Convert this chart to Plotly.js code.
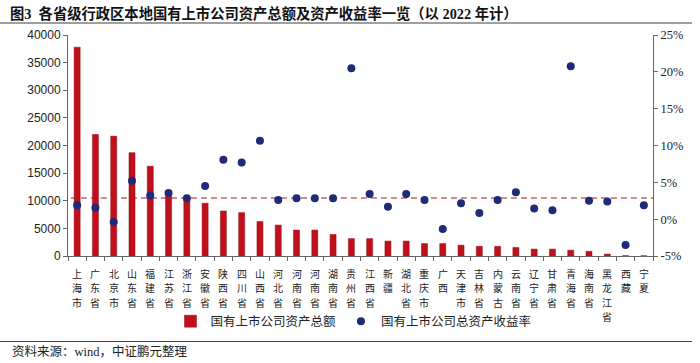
<!DOCTYPE html>
<html>
<head>
<meta charset="utf-8">
<script src="https://cdn.plot.ly/plotly-3.0.1.min.js"></script>
<style>html,body{margin:0;padding:0;background:#fff;}#chart{width:700px;height:363px;}</style>
</head>
<body>
<div id="chart"></div>
<script>
const categories = ['上海市','广东省','北京市','山东省','福建省','江苏省','浙江省','安徽省','陕西省','四川省','山西省','河北省','河南省','河南省','湖南省','贵州省','江西省','新疆','湖北省','重庆市','广西','天津市','吉林省','内蒙古','云南省','辽宁省','甘肃省','青海省','海南省','黑龙江省','西藏','宁夏'];
const totalAssets = [37800, 22000, 21700, 18700, 16250, 11200, 10400, 9550, 8150, 7850, 6250, 5600, 4700, 4700, 3900, 3150, 3150, 2700, 2700, 2250, 2250, 1950, 1750, 1750, 1550, 1250, 1250, 1050, 850, 350, 60, 40];
const roa = [1.9, 1.55, -0.4, 5.2, 3.2, 3.55, 2.85, 4.5, 8.05, 7.7, 10.65, 2.6, 2.85, 2.85, 2.85, 20.5, 3.4, 1.7, 3.4, 2.6, -1.35, 2.15, 0.85, 2.6, 3.65, 1.45, 1.2, 20.75, 2.5, 2.4, -3.5, 1.9];
const avgRoa = 2.88;
const leftTicks = [0, 5000, 10000, 15000, 20000, 25000, 30000, 35000, 40000];
const rightTicks = [-5, 0, 5, 10, 15, 20, 25];
const seriesNames = ['国有上市公司资产总额', '国有上市公司总资产收益率'];
const titleText = '图3  各省级行政区本地国有上市公司资产总额及资产收益率一览（以 2022 年计）';
const sourceText = '资料来源：wind，中证鹏元整理';

const idx = categories.map((_, i) => i);

const traces = [
  {
    type: 'bar', name: seriesNames[0], x: idx, y: totalAssets, yaxis: 'y',
    marker: {color: '#C0101C', line: {color: '#9a0c16', width: 0.5}},
    width: 0.33
  },
  {
    type: 'scatter', mode: 'markers', name: seriesNames[1], x: idx, y: roa, yaxis: 'y2',
    marker: {color: '#1F2A78', size: 8}
  }
];

// vertical (stacked-character) category labels, one text per character
const labelFont = {family: 'Noto Sans CJK SC', size: 10, color: '#222'};
const labelStep = 14.5;
const catAnnots = [];
categories.forEach((c, i) => {
  c.split('').forEach((ch, k) => {
    catAnnots.push({
      text: ch, xref: 'x', yref: 'paper', x: i, y: 0, xanchor: 'center', yanchor: 'middle',
      yshift: -(17 + k * labelStep), showarrow: false, borderpad: 0, font: labelFont
    });
  });
});

const axisColor = '#666666';
const layout = {
  width: 700, height: 363,
  margin: {l: 68, r: 47, t: 35, b: 107, pad: 0},
  paper_bgcolor: '#fff', plot_bgcolor: '#fff',
  showlegend: true,
  title: {
    text: '<b>' + titleText + '</b>',
    font: {family: 'Liberation Serif, Noto Sans CJK SC', size: 14.3, color: '#111'},
    xref: 'container', yref: 'container', x: 10/700, xanchor: 'left', y: 1 - 14/363, yanchor: 'middle'
  },
  xaxis: {
    range: [-0.5, categories.length - 0.5],
    tickmode: 'array', tickvals: idx, ticktext: categories, showticklabels: false,
    ticks: '', showgrid: false, zeroline: false,
    showline: true, linecolor: axisColor, linewidth: 1,
    minor: {tickmode: 'linear', tick0: -0.5, dtick: 1, ticks: 'outside', ticklen: 4, tickcolor: axisColor, tickwidth: 1, showgrid: false},
    fixedrange: true
  },
  yaxis: {
    range: [0, 40000], tickmode: 'array', tickvals: leftTicks, ticktext: leftTicks.map(v => String(v)),
    ticks: 'outside', ticklen: 4, tickcolor: axisColor,
    showgrid: false, zeroline: false, showline: true, linecolor: axisColor, linewidth: 1,
    tickfont: {family: 'Liberation Sans, Arial', size: 12, color: '#222'}
  },
  yaxis2: {
    range: [-5, 25], overlaying: 'y', side: 'right', tickmode: 'array', tickvals: rightTicks,
    ticktext: rightTicks.map(v => v + '%'),
    ticks: 'outside', ticklen: 4, tickcolor: axisColor,
    showgrid: false, zeroline: false, showline: true, linecolor: axisColor, linewidth: 1,
    tickfont: {family: 'Liberation Serif, Times New Roman', size: 12.5, color: '#222'}
  },
  legend: {
    orientation: 'h', x: 0.488, xanchor: 'center', y: (256 - 321.5) / 221, yanchor: 'middle',
    font: {family: 'Noto Sans CJK SC', size: 12.5, color: '#222'},
    bgcolor: 'rgba(0,0,0,0)', traceorder: 'normal'
  },
  shapes: [
    {type: 'line', xref: 'paper', yref: 'y2', x0: 0.005, x1: 1, y0: avgRoa, y1: avgRoa,
     line: {color: '#C4676A', width: 1.5, dash: '6px,4px'}, layer: 'below'},
    {type: 'line', xref: 'paper', yref: 'paper', x0: (0 - 68) / 585, x1: (692 - 68) / 585,
     y0: (256 - 23) / 221, y1: (256 - 23) / 221, line: {color: '#404040', width: 1.2}},
    {type: 'line', xref: 'paper', yref: 'paper', x0: (0 - 68) / 585, x1: (692 - 68) / 585,
     y0: (256 - 341.5) / 221, y1: (256 - 341.5) / 221, line: {color: '#404040', width: 1.2}}
  ],
  annotations: catAnnots.concat([
    {text: sourceText, xref: 'paper', yref: 'paper', x: (10 - 68) / 585, xanchor: 'left',
     y: (256 - 351) / 221, yanchor: 'middle', showarrow: false,
     font: {family: 'Liberation Serif, Noto Sans CJK SC', size: 12.5, color: '#222'}}
  ])
};

Plotly.newPlot('chart', traces, layout, {displayModeBar: false, staticPlot: true});
</script>
</body>
</html>
